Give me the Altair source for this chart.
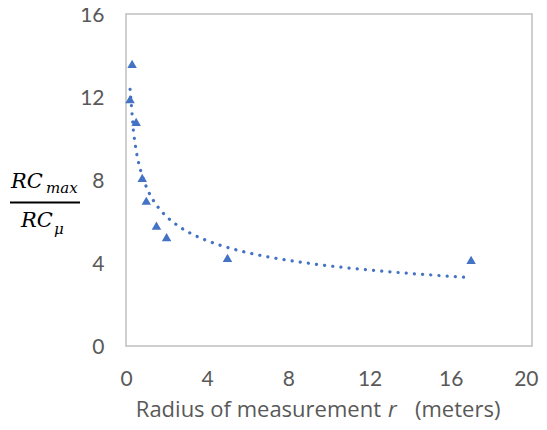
import altair as alt
import pandas as pd

# data
radius = [0.2, 0.3, 0.5, 0.8, 1.0, 1.5, 2.0, 5.0, 17.0]
ratio = [11.9, 13.6, 10.8, 8.1, 7.0, 5.8, 5.25, 4.25, 4.15]
x_ticks = [0, 4, 8, 12, 16, 20]
y_ticks = [0, 4, 8, 12, 16]

df = pd.DataFrame({"r": radius, "ratio": ratio})

BLUE = "#4472C4"
GRAY = "#595959"
LABEL_FONT = "Lato"
TITLE_FONT = "Open Sans"
MATH_FONT = "DejaVu Serif"
W, H = 406, 332

xenc = alt.X("r:Q", scale=alt.Scale(domain=[0, 20], nice=False),
             axis=alt.Axis(values=x_ticks, title=None, grid=False, ticks=False,
                           domain=False, labelFont=LABEL_FONT, labelFontSize=21,
                           labelColor=GRAY, labelPadding=22, labelFlush=True,
                           labelFlushOffset=6))
yenc = alt.Y("ratio:Q", scale=alt.Scale(domain=[0, 16], nice=False),
             axis=alt.Axis(values=y_ticks, title=None, grid=False, ticks=False,
                           domain=False, labelFont=LABEL_FONT, labelFontSize=21,
                           labelColor=GRAY, labelPadding=22, labelFlush=False,
                           labelOffset=1.5))

points = alt.Chart(df).mark_point(shape="triangle-up", filled=True, size=90,
                                  color=BLUE, opacity=1).encode(x=xenc, y=yenc)

trend = alt.Chart(df).transform_regression("r", "ratio", method="pow").mark_line(
    color=BLUE, strokeWidth=3.2, strokeDash=[0.1, 8.1], strokeCap="round"
).encode(x="r:Q", y="ratio:Q")


def txt(s, x, y, size, font, italic=False, align="left", color="black"):
    return alt.Chart(alt.Data(values=[{}])).mark_text(
        text=s, align=align, baseline="alphabetic", font=font, fontSize=size,
        fontStyle="italic" if italic else "normal", color=color
    ).encode(x=alt.value(x), y=alt.value(y))


bar = alt.Chart(alt.Data(values=[{}])).mark_rule(color="black", strokeWidth=2).encode(
    x=alt.value(-116), x2=alt.value(-46), y=alt.value(188.5))

layers = [
    trend, points,
    txt("RC", -115, 174, 21, MATH_FONT, italic=True),
    txt("max", -80, 179, 15, MATH_FONT, italic=True),
    bar,
    txt("RC", -105, 213, 21, MATH_FONT, italic=True),
    txt("μ", -72, 220, 15, MATH_FONT, italic=True),
    txt("Radius of measurement", 255, 403, 22, TITLE_FONT, align="right", color=GRAY),
    txt("r", 262, 403, 22, TITLE_FONT, italic=True, color=GRAY),
    txt("(meters)", 289, 403, 22, TITLE_FONT, color=GRAY),
]

chart = alt.layer(*layers).properties(
    width=W, height=H,
    padding={"left": 118, "top": 6, "right": 7, "bottom": 76},
    autosize=alt.AutoSizeParams(type="none"),
).configure_view(stroke="#BFBFBF", strokeWidth=1.5)

chart.save("out.html", embed_options={"renderer": "svg", "actions": False})
